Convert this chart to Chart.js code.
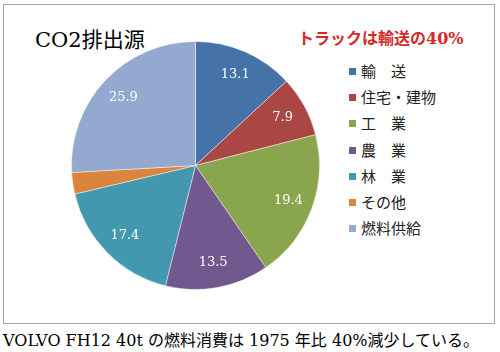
<!DOCTYPE html>
<html>
<head>
<meta charset="utf-8">
<script src="https://cdn.jsdelivr.net/npm/chart.js@4/dist/chart.umd.min.js"></script>
<style>
  body { margin: 0; background: #fff; width: 500px; height: 352px; position: relative; overflow: hidden; }
  #frame { position: absolute; left: 3px; top: 4px; width: 490px; height: 318px; border: 1px solid #a6a6a6; }
  #title { position: absolute; left: 35px; top: 23px; font: 21px "DejaVu Serif", "Noto Sans CJK JP", serif; color: #000; }
  #note { position: absolute; left: 298px; top: 25px; font: bold 16px "DejaVu Serif", "Noto Sans CJK JP", serif; color: #d42a2a; }
  #chartBox { position: absolute; left: 71px; top: 41px; width: 249px; height: 249px; }
  #legend { position: absolute; left: 349px; top: 62px; font: 15px "Noto Sans CJK JP", sans-serif; color: #222; }
  #legend div { height: 26.2px; line-height: 18px; white-space: pre; }
  #legend span { display: inline-block; width: 7px; height: 7px; margin-right: 5px; vertical-align: 2px; }
  #foot { position: absolute; left: 3px; top: 327px; font: 16px "DejaVu Serif", "Noto Sans CJK JP", serif; color: #000; white-space: pre; }
</style>
</head>
<body>
<div id="frame"></div>
<div id="title">CO2排出源</div>
<div id="note">トラックは輸送の40%</div>
<div id="chartBox"><canvas id="myChart"></canvas></div>
<div id="legend"></div>
<div id="foot">VOLVO FH12 40t の燃料消費は 1975 年比 40%減少している。</div>
<script>
const categories = ['輸　送', '住宅・建物', '工　業', '農　業', '林　業', 'その他', '燃料供給'];
const shares = [13.1, 7.9, 19.4, 13.5, 17.4, 2.8, 25.9];
const sliceColors = ['#4572A7', '#AA4643', '#89A54E', '#71588F', '#4198AF', '#DB843D', '#93A9CF'];

// legend as plain html
const legendBox = document.getElementById('legend');
categories.forEach((name, i) => {
  let row = document.createElement('div');
  row.innerHTML = '<span style="background:' + sliceColors[i] + '"></span>' + name;
  legendBox.appendChild(row);
});

// white value labels placed out toward the rim
const sliceLabels = {
  id: 'sliceLabels',
  afterDatasetsDraw(chart) {
    const c = chart.ctx;
    const meta = chart.getDatasetMeta(0);
    c.save();
    c.fillStyle = '#fff';
    c.font = '13px "DejaVu Serif", serif';
    c.textAlign = 'center';
    c.textBaseline = 'middle';
    meta.data.forEach((arc, i) => {
      if (shares[i] < 5) return;
      const p = arc.getProps(['x', 'y', 'startAngle', 'endAngle', 'outerRadius'], true);
      const mid = (p.startAngle + p.endAngle) / 2;
      const r = p.outerRadius * 0.8;
      c.fillText(shares[i].toFixed(1), p.x + Math.cos(mid) * r, p.y + Math.sin(mid) * r);
    });
    c.restore();
  }
};

const ctx = document.getElementById('myChart');

new Chart(ctx, {
  type: 'pie',
  data: {
    labels: categories,
    datasets: [{
      data: shares,
      backgroundColor: sliceColors,
      borderColor: 'rgba(255,255,255,0.45)',
      borderWidth: 1
    }]
  },
  options: {
    responsive: true,
    maintainAspectRatio: false,
    animation: false,
    layout: { padding: 0 },
    plugins: {
      legend: { display: false },
      tooltip: { enabled: false }
    }
  },
  plugins: [sliceLabels]
});
</script>
</body>
</html>
